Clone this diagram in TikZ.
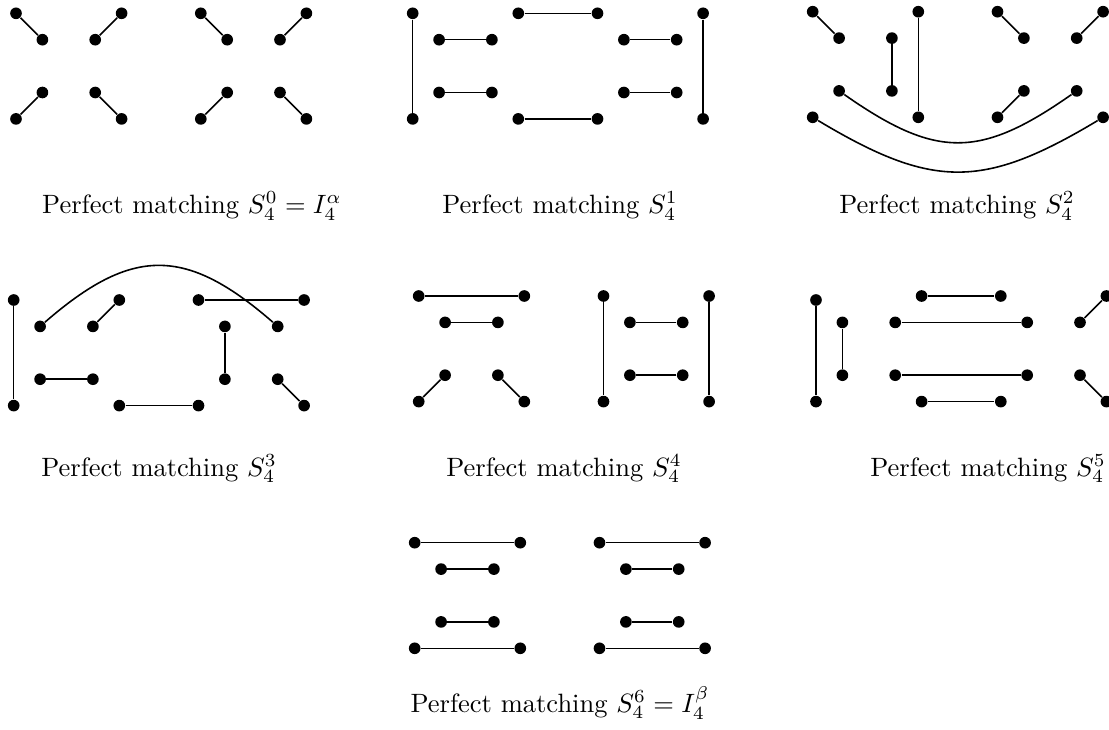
\documentclass[tikz,border=0pt]{standalone}
\usetikzlibrary{calc}
\newcommand\ptlist{0/0,1/1,3/1,4/0,0/4,1/3,3/3,4/4,7/0,8/1,10/1,11/0,7/4,8/3,10/3,11/4}
\newcommand\mkpanel[3]{%
  \foreach \i/\j in \ptlist {\node[dot] (#1-\i-\j) at ({#2+26.4*\i},{#3+26.4*\j}) {};}}
\begin{document}
\begin{tikzpicture}[x=0.3774pt,y=-0.3774pt,
  dot/.style={circle,fill=black,draw=none,inner sep=0pt,minimum size=4.4pt},
  link/.style={line width=0.6pt,black},
  lab/.style={anchor=base,inner sep=0pt,font=\normalsize}]
\useasboundingbox (0,0) rectangle (1109,730);
% ---------- panel 1 : S_4^0 ----------
\mkpanel{A}{16}{13.3}
\draw[link] (A-0-0) -- (A-1-1);
\draw[link] (A-4-0) -- (A-3-1);
\draw[link] (A-1-3) -- (A-0-4);
\draw[link] (A-3-3) -- (A-4-4);
\draw[link] (A-7-0) -- (A-8-1);
\draw[link] (A-11-0) -- (A-10-1);
\draw[link] (A-8-3) -- (A-7-4);
\draw[link] (A-10-3) -- (A-11-4);
\node[lab] (LA) at (192,213.5) {Perfect matching $S_4^0 = I_4^\alpha$};
% ---------- panel 2 : S_4^1 ----------
\mkpanel{B}{412.7}{13.3}
\draw[link] (B-0-0) -- (B-0-4);
\draw[link] (B-1-1) -- (B-3-1);
\draw[link] (B-1-3) -- (B-3-3);
\draw[link] (B-4-0) -- (B-7-0);
\draw[link] (B-4-4) -- (B-7-4);
\draw[link] (B-8-1) -- (B-10-1);
\draw[link] (B-8-3) -- (B-10-3);
\draw[link] (B-11-0) -- (B-11-4);
\node[lab] (LB) at (560,213.5) {Perfect matching $S_4^1$};
% ---------- panel 3 : S_4^2 ----------
\mkpanel{C}{812.7}{11.7}
\draw[link] (C-0-0) -- (C-1-1);
\draw[link] (C-3-1) -- (C-3-3);
\draw[link] (C-4-0) -- (C-4-4);
\draw[link] (C-7-0) -- (C-8-1);
\draw[link] (C-11-0) -- (C-10-1);
\draw[link] (C-8-3) -- (C-7-4);
\draw[link] (C-1-3) .. controls +(97,68) and +(-97,68) .. (C-10-3);
\draw[link] (C-0-4) .. controls +(120,72) and +(-120,72) .. (C-11-4);
\node[lab] (LC) at (957,213.5) {Perfect matching $S_4^2$};
% ---------- panel 4 : S_4^3 ----------
\mkpanel{D}{13.7}{300}
\draw[link] (D-0-0) -- (D-0-4);
\draw[link] (D-3-1) -- (D-4-0);
\draw[link] (D-1-3) -- (D-3-3);
\draw[link] (D-4-4) -- (D-7-4);
\draw[link] (D-7-0) -- (D-11-0);
\draw[link] (D-8-1) -- (D-8-3);
\draw[link] (D-10-3) -- (D-11-4);
\draw[link] (D-1-1) .. controls +(92,-80) and +(-92,-80) .. (D-10-1);
\node[lab] (LD) at (159,476) {Perfect matching $S_4^3$};
% ---------- panel 5 : S_4^4 ----------
\mkpanel{E}{418.7}{296}
\draw[link] (E-0-0) -- (E-4-0);
\draw[link] (E-1-1) -- (E-3-1);
\draw[link] (E-1-3) -- (E-0-4);
\draw[link] (E-3-3) -- (E-4-4);
\draw[link] (E-7-0) -- (E-7-4);
\draw[link] (E-8-1) -- (E-10-1);
\draw[link] (E-8-3) -- (E-10-3);
\draw[link] (E-11-0) -- (E-11-4);
\node[lab] (LE) at (564,476) {Perfect matching $S_4^4$};
% ---------- panel 6 : S_4^5 ----------
\foreach \i/\j in {1/1,3/1,4/0,0/4,1/3,3/3,4/4,7/0,8/1,10/1,11/0,7/4,8/3,10/3,11/4}
  {\node[dot] (F-\i-\j) at ({816+26.4*\i},{296+26.4*\j}) {};}
\node[dot] (F-0-0) at (816,300) {};
\draw[link] (F-0-0) -- (F-0-4);
\draw[link] (F-1-1) -- (F-1-3);
\draw[link] (F-3-1) -- (F-8-1);
\draw[link] (F-4-0) -- (F-7-0);
\draw[link] (F-3-3) -- (F-8-3);
\draw[link] (F-4-4) -- (F-7-4);
\draw[link] (F-10-1) -- (F-11-0);
\draw[link] (F-10-3) -- (F-11-4);
\node[lab] (LF) at (988,476) {Perfect matching $S_4^5$};
% ---------- panel 7 : S_4^6 ----------
\mkpanel{G}{414.7}{542.7}
\draw[link] (G-0-0) -- (G-4-0);
\draw[link] (G-1-1) -- (G-3-1);
\draw[link] (G-1-3) -- (G-3-3);
\draw[link] (G-0-4) -- (G-4-4);
\draw[link] (G-7-0) -- (G-11-0);
\draw[link] (G-8-1) -- (G-10-1);
\draw[link] (G-8-3) -- (G-10-3);
\draw[link] (G-7-4) -- (G-11-4);
\node[lab] (LG) at (560,712) {Perfect matching $S_4^6 = I_4^\beta$};
\end{tikzpicture}
\end{document}
